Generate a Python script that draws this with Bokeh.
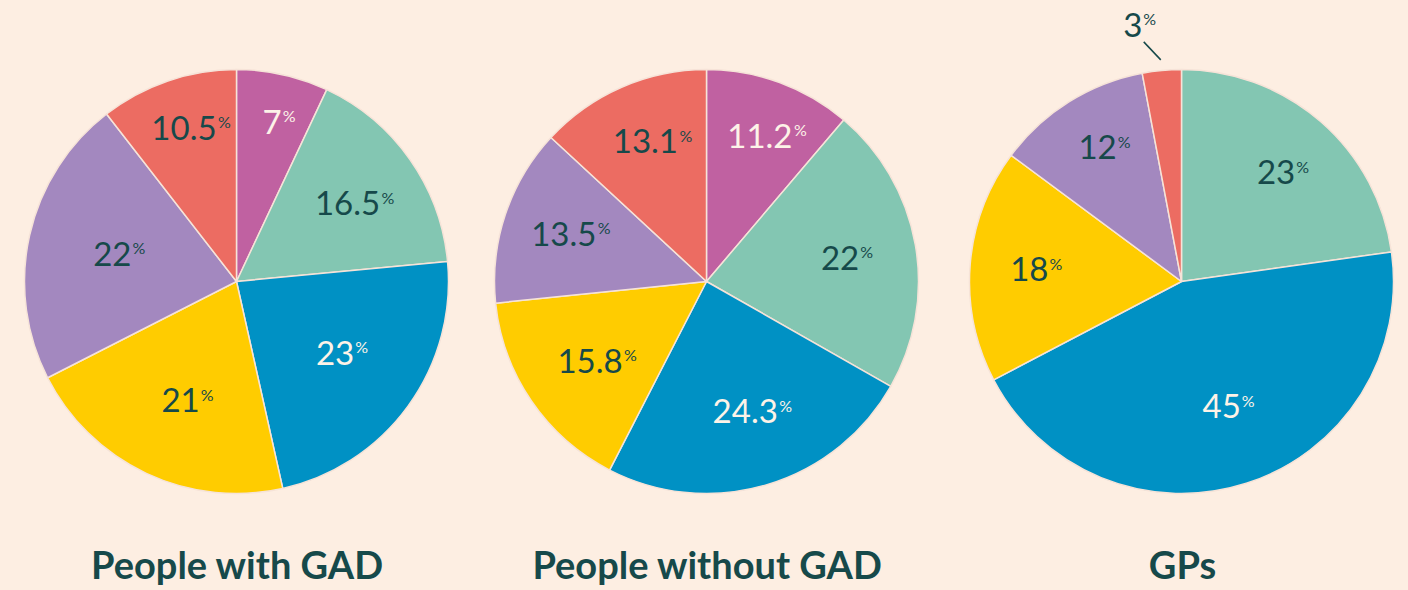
import math
from bokeh.plotting import figure
from bokeh.models import Range1d
from bokeh.core.properties import value
from bokeh.embed import file_html
from bokeh.resources import INLINE

# ---------------- data ----------------
GROUPS = ["People with GAD", "People without GAD", "GPs"]
# slice order, clockwise from 12 o'clock
SLICE_COLORS = ["#c061a1", "#83c6b2", "#0091c4", "#ffcc00", "#a388bf", "#ec6c62"]
GAD_VALUES = [7, 16.5, 23, 21, 22, 10.5]
NO_GAD_VALUES = [11.2, 22, 24.3, 15.8, 13.5, 13.1]
GP_VALUES = [0, 23, 45, 18, 12, 3]
SERIES = [GAD_VALUES, NO_GAD_VALUES, GP_VALUES]

# ---------------- style / layout ----------------
BG = "#fdeee2"
DARK = "#16494a"
LIGHT = "#fdf3e8"
LABEL_COLORS = [LIGHT, DARK, LIGHT, DARK, DARK, DARK]
# label distance from centre, as a fraction of the radius (layout only)
LABEL_RADIUS = [
    [0.77, 0.64, 0.575, 0.62, 0.60, 0.765],
    [0.73, 0.64, 0.64, 0.665, 0.71, 0.72],
    [0.70, 0.68, 0.62, 0.72, 0.745, 0.70],
]
W, H = 1408, 590
CENTERS_X = [236, 706, 1181]   # page px
CENTER_Y = 281                 # page px
R = 212
NUM_SIZE = 33
PCT_SIZE = 16
TITLE_SIZE = 38
BASE_SHIFT = 0.37  # empirical baseline correction (em)

def dy(page_y):
    return H - page_y

def dx(page_x):
    return page_x

p = figure(width=W, height=H, output_backend="svg", toolbar_location=None,
           x_range=Range1d(0, W), y_range=Range1d(0, H),
           min_border=0, background_fill_color=BG, border_fill_color=BG,
           outline_line_color=None)
p.axis.visible = False
p.grid.visible = False

def text_width(s):
    w = 0
    for ch in s:
        w += 0.26 * NUM_SIZE if ch == "." else 0.58 * NUM_SIZE
    return w

for cx, vals, title, radii in zip(CENTERS_X, SERIES, GROUPS, LABEL_RADIUS):
    total = sum(vals)
    cum = 0.0
    for v, col, lcol, rf in zip(vals, SLICE_COLORS, LABEL_COLORS, radii):
        if v <= 0:
            continue
        f0 = cum / total
        f1 = (cum + v) / total
        cum += v
        a0 = math.pi / 2 - 2 * math.pi * f0
        a1 = math.pi / 2 - 2 * math.pi * f1
        p.wedge(x=[dx(cx)], y=[dy(CENTER_Y)], radius=R, start_angle=[a0], end_angle=[a1],
                direction="clock", fill_color=col, line_color="#f6e3d8", line_width=1.5)
        fm = (f0 + f1) / 2
        theta = 2 * math.pi * fm  # clockwise from top
        label = f"{v:g}"
        if v / total < 0.05:
            sx = cx + 1.05 * R * math.sin(theta)
            sy = CENTER_Y - 1.05 * R * math.cos(theta)
            ex, ey = sx - 17, sy - 18
            p.line(x=[dx(sx), dx(ex)], y=[dy(sy), dy(ey)], line_color=DARK, line_width=1.5)
            lx, ly = ex - 11, ey - 17
            tc = DARK
        else:
            rr = rf * R
            lx = cx + rr * math.sin(theta)
            ly = CENTER_Y - rr * math.cos(theta)
            tc = lcol
        wn = text_width(label)
        p.text(x=[dx(lx)], y=[dy(ly + 12 - BASE_SHIFT * NUM_SIZE)], text=[label],
               text_align="center", text_baseline="alphabetic", text_font=value("Lato"),
               text_font_size=f"{NUM_SIZE}px", text_color=tc)
        p.text(x=[dx(lx + wn / 2 + 1)], y=[dy(ly - 0.5 - BASE_SHIFT * PCT_SIZE)], text=["%"],
               text_align="left", text_baseline="alphabetic", text_font=value("Lato"),
               text_font_size=f"{PCT_SIZE}px", text_color=tc)
    p.text(x=[dx(cx + 1)], y=[dy(578 - BASE_SHIFT * TITLE_SIZE)], text=[title],
           text_align="center", text_baseline="alphabetic", text_font=value("Lato"),
           text_font_style="bold", text_font_size=f"{TITLE_SIZE}px", text_color=DARK)

html = file_html(p, INLINE)
style = "<style>html,body{margin:0;padding:0;background:#fdeee2;overflow:hidden}</style>"
html = html.replace("</head>", style + "</head>", 1)
open("out.html", "w").write(html)
